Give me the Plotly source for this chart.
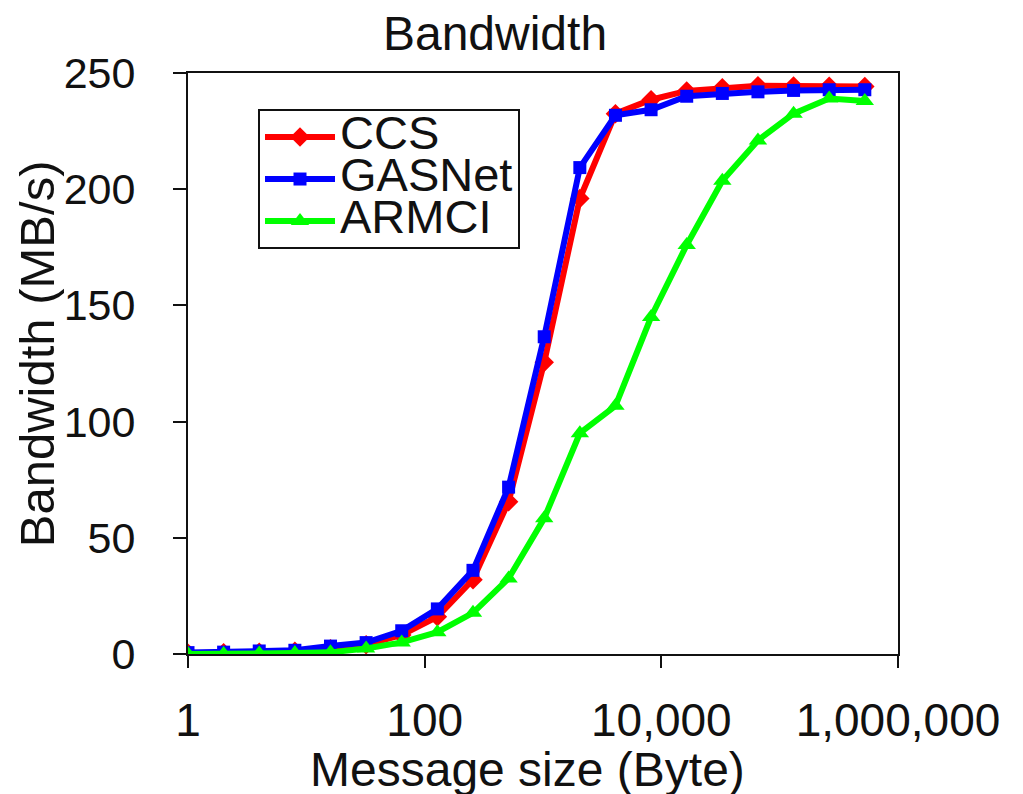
import plotly.graph_objects as go

msg_size = [2 ** i for i in range(20)]
ccs = [0.3, 0.5, 0.8, 1.2, 2.3, 4.0, 8.2, 16.0, 32.0, 65.5, 125.5, 196.0, 232.5, 238.5, 242.3, 243.7, 244.5, 244.4, 244.3, 244.2]
gasnet = [0.6, 0.8, 1.3, 1.6, 3.4, 4.9, 10.0, 19.4, 36.0, 71.8, 136.5, 209.3, 231.8, 234.2, 240.0, 241.2, 241.9, 242.5, 242.8, 242.8]
armci = [0.0, 0.0, 0.2, 0.4, 0.7, 2.4, 5.0, 9.4, 17.7, 32.5, 58.4, 95.0, 106.8, 145.0, 176.0, 203.6, 221.0, 232.5, 239.0, 238.0]
series_names = ["CCS", "GASNet", "ARMCI"]

x_tickvals = [1, 100, 10000, 1000000]
x_ticktext = ["1", "100", "10,000", "1,000,000"]
y_tickvals = [0, 50, 100, 150, 200, 250]

FONT = "Liberation Sans, Arial, sans-serif"
INK = "#111111"


def legend_label(s):
    return '<span style="font-size:47px">' + s + '</span>'


fig = go.Figure()
fig.add_trace(go.Scatter(x=msg_size, y=ccs, name=legend_label(series_names[0]), mode="lines+markers",
                         line=dict(color="#FF0000", width=6),
                         marker=dict(symbol="diamond", size=15, color="#FF0000")))
fig.add_trace(go.Scatter(x=msg_size, y=gasnet, name=legend_label(series_names[1]), mode="lines+markers",
                         line=dict(color="#0000FF", width=6),
                         marker=dict(symbol="square", size=13, color="#0000FF")))
fig.add_trace(go.Scatter(x=msg_size, y=armci, name=legend_label(series_names[2]), mode="lines+markers",
                         line=dict(color="#00FF00", width=6),
                         marker=dict(symbol="triangle-up", size=16, color="#00FF00")))

fig.update_layout(
    width=1023, height=794,
    margin=dict(l=180, r=133, t=65, b=148),
    paper_bgcolor="white", plot_bgcolor="white",
    font=dict(family=FONT, color=INK, size=44),
    title=dict(text="Bandwidth", x=487 / 1023, xanchor="center", xref="container",
               y=1 - 25 / 794, yanchor="middle", yref="container",
               font=dict(size=48, family=FONT, color=INK)),
    showlegend=True,
    legend=dict(x=0.0986, y=0.938, xanchor="left", yanchor="top",
                bgcolor="white", bordercolor=INK, borderwidth=2,
                font=dict(size=30, family=FONT, color=INK),
                itemwidth=70, tracegroupgap=0),
)
fig.update_xaxes(type="log", range=[0, 6], tickvals=x_tickvals, ticktext=x_ticktext,
                 showline=True, linecolor=INK, linewidth=2, mirror=True,
                 ticks="outside", ticklen=12, tickwidth=2, tickcolor=INK,
                 showgrid=False, zeroline=False, ticklabelstandoff=13,
                 tickfont=dict(size=46, family=FONT, color=INK))
fig.update_yaxes(range=[0, 250], tickvals=y_tickvals,
                 showline=True, linecolor=INK, linewidth=2, mirror=True,
                 ticks="outside", ticklen=13, tickwidth=2, tickcolor=INK,
                 showgrid=False, zeroline=False, ticklabelstandoff=29,
                 tickfont=dict(size=43, family=FONT, color=INK))

fig.add_annotation(text="Message size (Byte)", xref="paper", yref="paper",
                   x=(519 - 180) / 710, y=-115 / 581, xanchor="center", yanchor="middle",
                   showarrow=False, font=dict(size=48, family=FONT, color=INK))
fig.add_annotation(text="Bandwidth (MB/s)", xref="paper", yref="paper",
                   x=-(180 - 29) / 710, y=0.516, xanchor="center", yanchor="middle",
                   textangle=-90, showarrow=False,
                   font=dict(size=49, family=FONT, color=INK))

fig.write_html("out.html")
